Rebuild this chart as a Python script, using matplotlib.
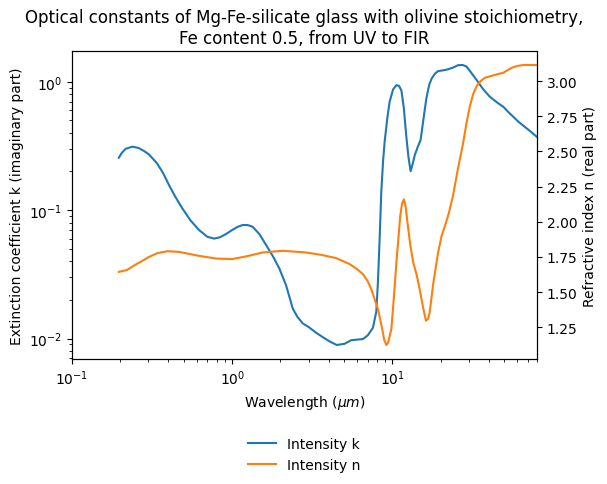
import matplotlib
matplotlib.use("Agg")
import matplotlib.pyplot as plt

# Extinction coefficient k (imaginary part)
wl_k = [0.196, 0.205, 0.216, 0.238, 0.26, 0.28, 0.302, 0.34, 0.37, 0.403, 0.44, 0.489,
        0.55, 0.621, 0.7, 0.771, 0.84, 0.913, 1.0, 1.08, 1.16, 1.25, 1.34, 1.48, 1.63,
        1.8, 1.97, 2.17, 2.39, 2.55, 2.76, 3.0, 3.34, 3.7, 4.05, 4.5, 5.03, 5.53, 6.0,
        6.55, 7.03, 7.56, 7.94, 8.13, 8.33, 8.53, 8.75, 8.95, 9.3, 9.62, 10.1, 10.6,
        11.0, 11.4, 11.8, 12.2, 12.6, 13.0, 13.4, 13.8, 14.4, 15.0, 15.6, 16.3, 17.0,
        17.6, 18.5, 19.3, 21.0, 22.3, 24.0, 25.7, 27.5, 29.1, 31.0, 33.6, 37.0, 40.6,
        45.0, 49.3, 53.0, 56.9, 61.0, 65.8, 72.0, 79.7]
k_vals = [0.256, 0.28, 0.30, 0.312, 0.305, 0.29, 0.272, 0.231, 0.195, 0.157, 0.128, 0.103,
          0.083, 0.070, 0.062, 0.060, 0.0615, 0.065, 0.070, 0.074, 0.0765, 0.0765, 0.0743,
          0.065, 0.0534, 0.0435, 0.0351, 0.026, 0.0171, 0.0148, 0.0131, 0.0123, 0.0111,
          0.0102, 0.0095, 0.0089, 0.0091, 0.0097, 0.0098, 0.0099, 0.0106, 0.0121, 0.0162,
          0.0277, 0.06, 0.139, 0.24, 0.341, 0.52, 0.70, 0.87, 0.94, 0.93, 0.85, 0.62,
          0.384, 0.26, 0.201, 0.23, 0.268, 0.31, 0.351, 0.5, 0.741, 0.95, 1.06, 1.16, 1.21,
          1.23, 1.25, 1.29, 1.345, 1.35, 1.31, 1.18, 1.03, 0.87, 0.764, 0.69, 0.638, 0.58,
          0.533, 0.49, 0.454, 0.415, 0.373]

# Refractive index n (real part)
wl_n = [0.196, 0.22, 0.245, 0.274, 0.305, 0.34, 0.394, 0.466, 0.621, 0.79, 1.0, 1.22,
        1.55, 2.07, 2.89, 3.6, 4.46, 5.4, 6.0, 6.55, 7.0, 7.38, 7.8, 8.13, 8.6, 8.9, 9.17,
        9.4, 9.86, 10.2, 10.6, 11.2, 11.5, 11.8, 12.1, 12.5, 13.0, 13.5, 14.2, 14.8,
        15.5, 16.2, 16.7, 17.1, 18.0, 19.3, 20.3, 21.3, 22.5, 23.9, 25.5, 27.7, 29.0,
        30.5, 32.0, 33.6, 35.5, 37.8, 44.8, 49.3, 55.6, 60.0, 65.8, 79.7]
n_vals = [1.644, 1.657, 1.69, 1.722, 1.752, 1.777, 1.791, 1.786, 1.758, 1.739, 1.735,
          1.754, 1.782, 1.794, 1.782, 1.765, 1.742, 1.70, 1.665, 1.628, 1.58, 1.522, 1.44,
          1.38, 1.25, 1.16, 1.124, 1.14, 1.238, 1.45, 1.711, 2.042, 2.13, 2.16, 2.11, 1.971,
          1.82, 1.711, 1.62, 1.522, 1.40, 1.297, 1.31, 1.356, 1.56, 1.782, 1.90, 1.971, 2.06,
          2.184, 2.36, 2.563, 2.70, 2.823, 2.91, 2.965, 3.0, 3.024, 3.048, 3.06, 3.095,
          3.108, 3.115, 3.115]

fig = plt.figure(figsize=(6.07, 4.85), dpi=100)
ax = fig.add_axes([0.1186, 0.2577, 0.7661, 0.6351])
ax.set_xscale("log")
ax.set_yscale("log")
l1, = ax.plot(wl_k, k_vals, color="#1f77b4", label="Intensity k")
ax.set_xlim(0.1, 80)
ax.set_xlabel(r"Wavelength ($\mu m$)")
ax.set_ylabel("Extinction coefficient k (imaginary part)")

ax2 = ax.twinx()
l2, = ax2.plot(wl_n, n_vals, color="#ff7f0e", label="Intensity n")
ax2.set_ylabel("Refractive index n (real part)")

ax.set_title("Optical constants of Mg-Fe-silicate glass with olivine stoichiometry,\n"
             "Fe content 0.5, from UV to FIR", fontsize=12)
ax.legend(handles=[l1, l2], loc="center", bbox_to_anchor=(0.5, -0.31), frameon=False)

fig.savefig("out.png", dpi=100)
